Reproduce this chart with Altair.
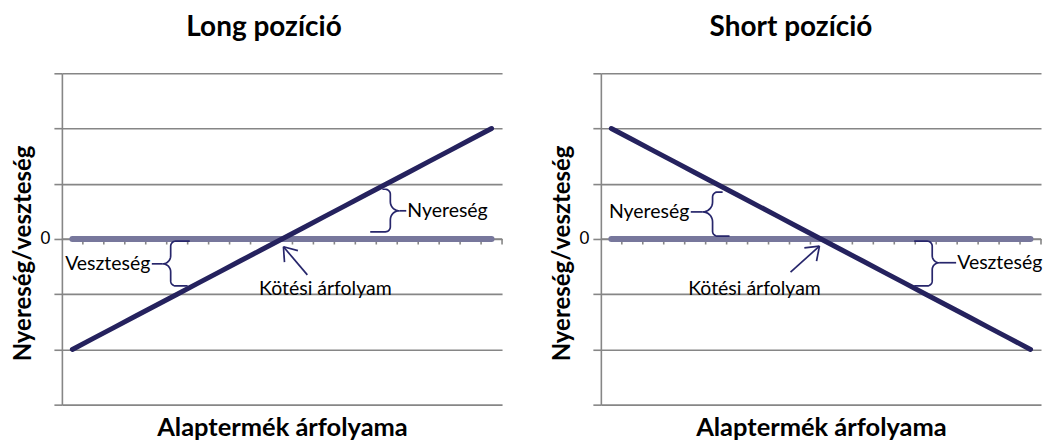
import altair as alt
import pandas as pd
import numpy as np

# ---------------- data ----------------
price_points = [1, 2, 3, 4, 5, 6, 7, 8, 9, 10, 11, 12, 13, 14, 15, 16, 17, 18, 19, 20, 21]
long_payoff = [-2.0, -1.8, -1.6, -1.4, -1.2, -1.0, -0.8, -0.6, -0.4, -0.2, 0.0,
               0.2, 0.4, 0.6, 0.8, 1.0, 1.2, 1.4, 1.6, 1.8, 2.0]
short_payoff = [2.0, 1.8, 1.6, 1.4, 1.2, 1.0, 0.8, 0.6, 0.4, 0.2, 0.0,
                -0.2, -0.4, -0.6, -0.8, -1.0, -1.2, -1.4, -1.6, -1.8, -2.0]
zero_payoff = [0.0] * 21
x_tick_marks = [1.5, 2.5, 3.5, 4.5, 5.5, 6.5, 7.5, 8.5, 9.5, 10.5, 11.5,
                12.5, 13.5, 14.5, 15.5, 16.5, 17.5, 18.5, 19.5, 20.5, 21.5]
y_ticks = [-3, -2, -1, 0, 1, 2, 3]

titles = ["Long pozíció", "Short pozíció"]
title_dx = [-18, -30]
x_title = "Alaptermék árfolyama"
y_title = "Nyereség/veszteség"

# annotation anchors (data units): brace = (x, y_top, y_bottom, x_tip, y_tip, arm_top_x, arm_bottom_x)
long_braces = [(5.69, -0.04, -0.85, 5.31, -0.45, 6.6, 6.5),
               (16.17, 0.90, 0.13, 16.6, 0.51, 15.79, 15.21)]
short_braces = [(5.83, 0.85, 0.05, 5.36, 0.49, 6.31, 6.64),
                (16.31, -0.04, -0.85, 16.64, -0.43, 15.45, 15.45)]
# labels: (text, x, y, align)
long_labels = [("Veszteség", 4.72, -0.45, "right"),
               ("Nyereség", 16.98, 0.51, "left"),
               ("Kötési árfolyam", 13.07, -0.91, "center")]
short_labels = [("Nyereség", 4.72, 0.49, "right"),
                ("Veszteség", 17.5, -0.43, "left"),
                ("Kötési árfolyam", 7.83, -0.91, "center")]
# dashes from label to brace tip: (x, y, x2)
long_dashes = [(4.79, -0.45, 5.31), (16.6, 0.51, 16.93)]
short_dashes = [(4.79, 0.49, 5.36), (16.64, -0.43, 17.45)]
# arrow: tip, tail, arm1, arm2
long_arrow = [(11.07, -0.14), (12.21, -0.65), (11.76, -0.21), (11.12, -0.42)]
short_arrow = [(10.93, -0.13), (9.55, -0.60), (10.21, -0.16), (10.79, -0.40)]

# ---------------- style ----------------
FONT = "Lato"
GRID = "#868686"
ZERO_COL = "#77779c"
LINE_COL = "#25225e"
ANN_COL = "#27266b"
KX = 21.0     # px per category
KY = 332 / 6  # px per y unit


def brace_points(bid, x, yt, yb, xtip, ytip, armt, armb):
    s = 1 if xtip > x else -1
    r = 5.0
    r2 = abs(xtip - x) * KX
    vt, vb, vm = yt * KY, yb * KY, ytip * KY
    pts = [((armt - x) * KX, vt)]
    n = 9
    cx, cy = -s * r, vt - r
    for a in np.linspace(np.pi / 2, 0 if s > 0 else np.pi, n):
        pts.append((cx + r * np.cos(a), cy + r * np.sin(a)))
    cx, cy = s * r2, vm + r2
    for a in np.linspace(np.pi if s > 0 else 0, 1.5 * np.pi if s > 0 else -0.5 * np.pi, n):
        pts.append((cx + r2 * np.cos(a), cy + r2 * np.sin(a)))
    cx, cy = s * r2, vm - r2
    for a in np.linspace(np.pi / 2, np.pi if s > 0 else 0, n):
        pts.append((cx + r2 * np.cos(a), cy + r2 * np.sin(a)))
    cx, cy = -s * r, vb + r
    for a in np.linspace(0 if s > 0 else np.pi, -0.5 * np.pi if s > 0 else 1.5 * np.pi, n):
        pts.append((cx + r * np.cos(a), cy + r * np.sin(a)))
    pts.append(((armb - x) * KX, vb))
    return [{"id": bid, "k": i, "x": x + u / KX, "y": v / KY} for i, (u, v) in enumerate(pts)]


def panel(idx, payoff, braces, labels, dashes, arrow):
    xs = alt.Scale(domain=[0.5, 21.5], nice=False, zero=False)
    ys = alt.Scale(domain=[-3, 3], nice=False, zero=False)
    X = alt.X("x:Q", scale=xs, axis=alt.Axis(
        title=x_title, domain=False, ticks=False, labels=False, grid=False,
        titleFont=FONT, titleFontSize=25.5, titleFontWeight="bold", titleColor="black",
        titlePadding=11))
    Y = alt.Y("y:Q", scale=ys, axis=alt.Axis(
        title=y_title, values=y_ticks, grid=True, labelExpr="datum.value == 0 ? '0' : ''",
        domainColor=GRID, domainWidth=1.6, tickColor=GRID, tickWidth=1.6, tickSize=8,
        gridColor=GRID, gridWidth=1.6, labelFont=FONT, labelFontSize=17, labelColor="black",
        labelPadding=4, titleFont=FONT, titleFontSize=24, titleFontWeight="bold",
        titleColor="black", titlePadding=5, titleY=180))

    zero_df = pd.DataFrame({"x": price_points, "y": zero_payoff})
    pay_df = pd.DataFrame({"x": price_points, "y": payoff})
    tick_df = pd.DataFrame({"x": x_tick_marks, "y": [0.0] * len(x_tick_marks),
                            "y2": [-0.1] * len(x_tick_marks)})
    axis_df = pd.DataFrame({"x": [0.5], "x2": [21.5], "y": [0.0]})

    segs = []
    for (x, y, x2) in dashes:
        segs.append({"x": x, "y": y, "x2": x2, "y2": y})
    tip, tail, a1, a2 = arrow
    for p in (tail, a1, a2):
        segs.append({"x": tip[0], "y": tip[1], "x2": p[0], "y2": p[1]})
    seg_df = pd.DataFrame(segs)

    br = []
    for i, b in enumerate(braces):
        br += brace_points(i, *b)
    br_df = pd.DataFrame(br)

    lab_df = pd.DataFrame([{"t": t, "x": x, "y": y, "a": a} for (t, x, y, a) in labels])

    base_axis = alt.Chart(axis_df).mark_rule(color=GRID, strokeWidth=1.6).encode(
        x=X, x2="x2:Q", y=Y)
    ticks = alt.Chart(tick_df).mark_rule(color=GRID, strokeWidth=1.6).encode(
        x=X, y=Y, y2="y2:Q")
    zero = alt.Chart(zero_df).mark_line(color=ZERO_COL, strokeWidth=6, strokeCap="round").encode(
        x=X, y=Y)
    line = alt.Chart(pay_df).mark_line(color=LINE_COL, strokeWidth=5, strokeCap="round").encode(
        x=X, y=Y)
    brace = alt.Chart(br_df).mark_line(color=ANN_COL, strokeWidth=1.7).encode(
        x=X, y=Y, detail="id:N", order="k:Q")
    seg = alt.Chart(seg_df).mark_rule(color=ANN_COL, strokeWidth=1.7).encode(
        x=X, y=Y, x2="x2:Q", y2="y2:Q")
    texts = []
    for al in ["left", "right", "center"]:
        sub = lab_df[lab_df["a"] == al]
        if len(sub):
            texts.append(alt.Chart(sub).mark_text(
                align=al, baseline="middle", font=FONT, fontSize=19.5, color="black").encode(
                x=X, y=Y, text="t:N"))

    return alt.layer(base_axis, ticks, zero, line, brace, seg, *texts).properties(
        width=441, height=332,
        title=alt.TitleParams(titles[idx], font=FONT, fontSize=28, fontWeight="bold",
                              color="black", anchor="middle", offset=31, dx=title_dx[idx]))


left = panel(0, long_payoff, long_braces, long_labels, long_dashes, long_arrow)
right = panel(1, short_payoff, short_braces, short_labels, short_dashes, short_arrow)

chart = alt.hconcat(left, right, spacing=46).properties(
    padding={"left": 3, "top": 5, "right": 0, "bottom": 0}
).configure_view(strokeWidth=0)

chart.save("out.html", embed_options={"renderer": "svg", "actions": False})
